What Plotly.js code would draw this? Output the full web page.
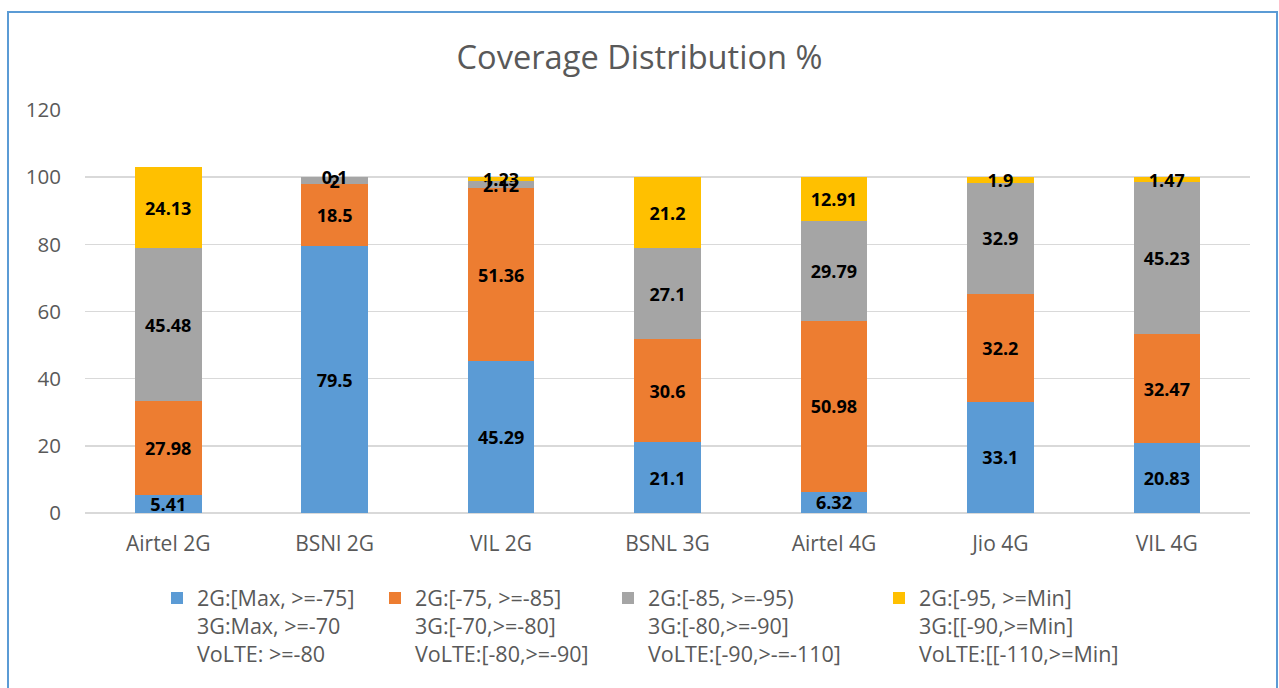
<!DOCTYPE html>
<html>
<head>
<meta charset="utf-8">
<script src="https://cdn.plot.ly/plotly-3.0.1.min.js"></script>
<style>html,body{margin:0;padding:0;background:#fff;}#chart{width:1279px;height:688px;}</style>
</head>
<body>
<div id="chart"></div>
<script>
const categories = ["Airtel 2G", "BSNl 2G", "VIL 2G", "BSNL 3G", "Airtel 4G", "Jio 4G", "VIL 4G"];
const seriesNames = [
  "2G:[Max, >=-75]<br>3G:Max, >=-70<br>VoLTE: >=-80",
  "2G:[-75, >=-85]<br>3G:[-70,>=-80]<br>VoLTE:[-80,>=-90]",
  "2G:[-85, >=-95)<br>3G:[-80,>=-90]<br>VoLTE:[-90,>-=-110]",
  "2G:[-95, >=Min]<br>3G:[[-90,>=Min]<br>VoLTE:[[-110,>=Min]"
];
const band1 = [5.41, 79.5, 45.29, 21.1, 6.32, 33.1, 20.83];
const band2 = [27.98, 18.5, 51.36, 30.6, 50.98, 32.2, 32.47];
const band3 = [45.48, 2, 2.12, 27.1, 29.79, 32.9, 45.23];
const band4 = [24.13, 0.1, 1.23, 21.2, 12.91, 1.9, 1.47];
const colors = ["#5b9bd5", "#ed7d31", "#a5a5a5", "#ffc000"];
const yTicks = [0, 20, 40, 60, 80, 100, 120];

const font = "Open Sans, Noto Sans, sans-serif";
const legendIds = ["legend", "legend2", "legend3", "legend4"];
const legendLeftPx = [157, 375, 608, 879];
const allBands = [band1, band2, band3, band4];
const traces = allBands.map((vals, i) => ({
  type: "bar",
  name: seriesNames[i],
  legend: legendIds[i],
  x: categories,
  y: vals,
  marker: {color: colors[i]},
  text: vals.map(v => String(v)),
  textposition: "inside",
  insidetextanchor: "middle",
  textangle: 0,
  constraintext: "none",
  textfont: {family: font, size: 18, color: "#000000", weight: "bold"},
  hoverinfo: "x+y"
}));

const plotL = 85, plotW = 1165, plotB = 513, plotH = 403;
const layout = {
  width: 1279,
  height: 688,
  paper_bgcolor: "#ffffff",
  plot_bgcolor: "#ffffff",
  barmode: "stack",
  bargap: 0.6,
  margin: {l: 85, r: 29, t: 110, b: 175},
  font: {family: font, color: "#595959"},
  title: {text: "Coverage Distribution %", font: {family: font, size: 32.6, color: "#595959"}, x: 0.5, xanchor: "center", y: 0.917, yanchor: "middle"},
  uniformtext: {mode: "show", minsize: 18},
  xaxis: {
    showgrid: false, showline: false, zeroline: false, ticks: "",
    ticklabelstandoff: 16,
    tickfont: {family: font, size: 21, color: "#595959"}
  },
  yaxis: {
    range: [0, 120], tickvals: yTicks, ticktext: yTicks.map(String),
    showgrid: true, gridcolor: "#d9d9d9", gridwidth: 1.5,
    zeroline: true, zerolinecolor: "#d9d9d9", zerolinewidth: 1.5,
    showline: false, ticks: "", ticklabelstandoff: 23,
    tickfont: {family: font, size: 20.5, color: "#595959"}
  },
  showlegend: true,
  shapes: [{
    type: "rect", xref: "paper", yref: "paper",
    x0: (8 - plotL) / plotW, x1: (1277 - plotL) / plotW,
    y0: (plotB - 700) / plotH, y1: (plotB - 12) / plotH,
    line: {color: "#5b9bd5", width: 2}, fillcolor: "rgba(0,0,0,0)", layer: "below"
  }]
};
legendIds.forEach((id, i) => {
  layout[id] = {
    orientation: "v",
    x: (legendLeftPx[i] - plotL) / plotW, xanchor: "left",
    y: -(577.5 - plotB) / plotH, yanchor: "top",
    valign: "top", bgcolor: "rgba(0,0,0,0)",
    font: {family: font, size: 21.5, color: "#595959"},
    itemclick: false, itemdoubleclick: false
  };
});

Plotly.newPlot("chart", traces, layout, {displayModeBar: false, staticPlot: true});
</script>
</body>
</html>
